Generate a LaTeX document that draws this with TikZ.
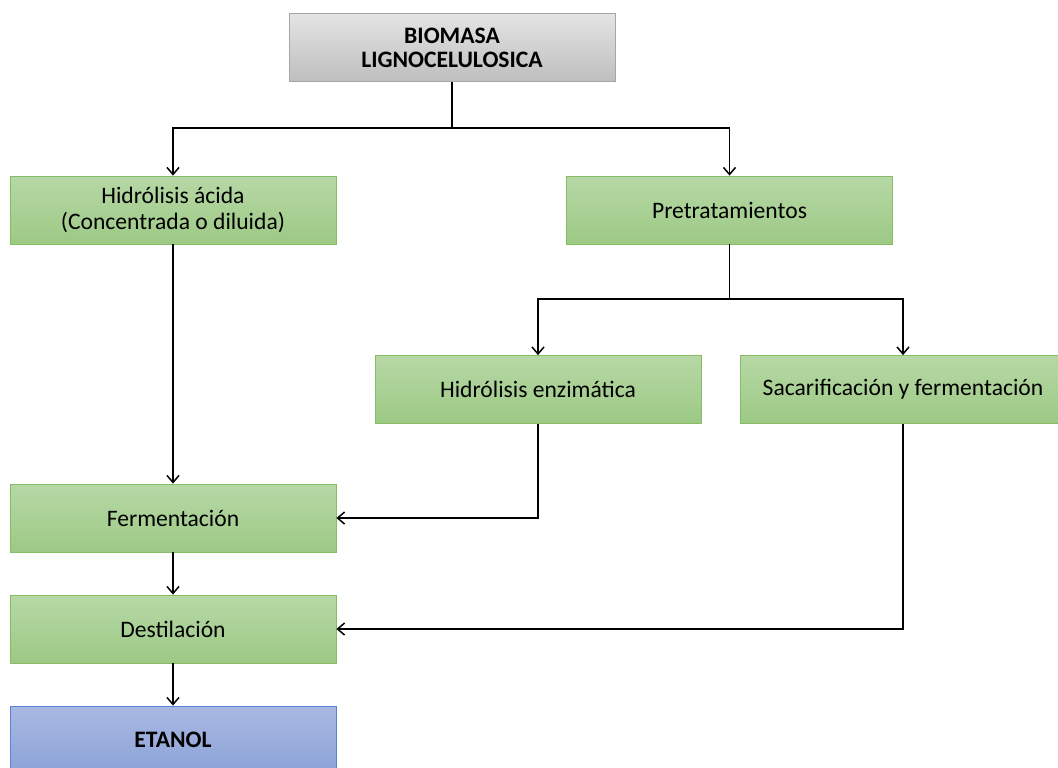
\documentclass[tikz,border=0pt]{standalone}
\usepackage{fontspec}
\setmainfont{Carlito}
\usetikzlibrary{arrows.meta}

\definecolor{verdearriba}{HTML}{B7D8A6}
\definecolor{verdeabajo}{HTML}{9CC984}
\definecolor{verdeborde}{HTML}{86BC63}
\definecolor{grisarriba}{HTML}{E4E4E4}
\definecolor{grisabajo}{HTML}{BEBEBE}
\definecolor{grisborde}{HTML}{A6A6A6}
\definecolor{azularriba}{HTML}{AAB8E2}
\definecolor{azulabajo}{HTML}{8BA3D8}
\definecolor{azulborde}{HTML}{5B84D0}

\tikzset{
  caja/.style={minimum width=163pt, minimum height=34pt, inner sep=0pt,
    align=center, font=\fontsize{11.8}{13}\selectfont},
  paso/.style={caja, draw=verdeborde, top color=verdearriba, bottom color=verdeabajo},
  inicio/.style={caja, draw=grisborde, top color=grisarriba, bottom color=grisabajo,
    font=\fontsize{11.8}{12}\selectfont\bfseries},
  final/.style={caja, draw=azulborde, top color=azularriba, bottom color=azulabajo,
    font=\fontsize{11.8}{13}\selectfont\bfseries},
  flecha/.style={line width=0.75pt, -{Straight Barb[length=3.5pt,width=6pt]}},
  linea/.style={line width=0.75pt}
}

\begin{document}
\begin{tikzpicture}[x=0.5pt, y=-0.5pt]
\useasboundingbox (0,0) rectangle (1058,767);
\clip (0,0) rectangle (1058,767);

% cajas
\node[inicio] (bio) at (452,47.5) {BIOMASA\\LIGNOCELULOSICA};
\node[paso] (acida) at (173,210) {Hidrólisis ácida\\(Concentrada o diluida)};
\node[paso] (pret) at (729.5,210) {Pretratamientos};
\node[paso] (enzi) at (538,389.5) {Hidrólisis enzimática};
\node[paso] (sacar) at (903,389.5) {Sacarificación y fermentación};
\node[paso] (ferm) at (173,518) {Fermentación};
\node[paso] (dest) at (173,629) {Destilación};
\node[final] (etanol) at (173,740) {ETANOL};

% conectores
\coordinate (rama1) at (452,128);
\coordinate (rama2) at (729.5,299);
\draw[linea] (bio) -- (rama1);
\draw[flecha] (rama1) -| (acida);
\draw[flecha] (rama1) -| (pret);
\draw[linea] (pret) -- (rama2);
\draw[flecha] (rama2) -| (enzi);
\draw[flecha] (rama2) -| (sacar);
\draw[flecha] (acida) -- (ferm);
\draw[flecha] (enzi) |- (ferm);
\draw[flecha] (sacar) |- (dest);
\draw[flecha] (ferm) -- (dest);
\draw[flecha] (dest) -- (etanol);
\end{tikzpicture}
\end{document}
